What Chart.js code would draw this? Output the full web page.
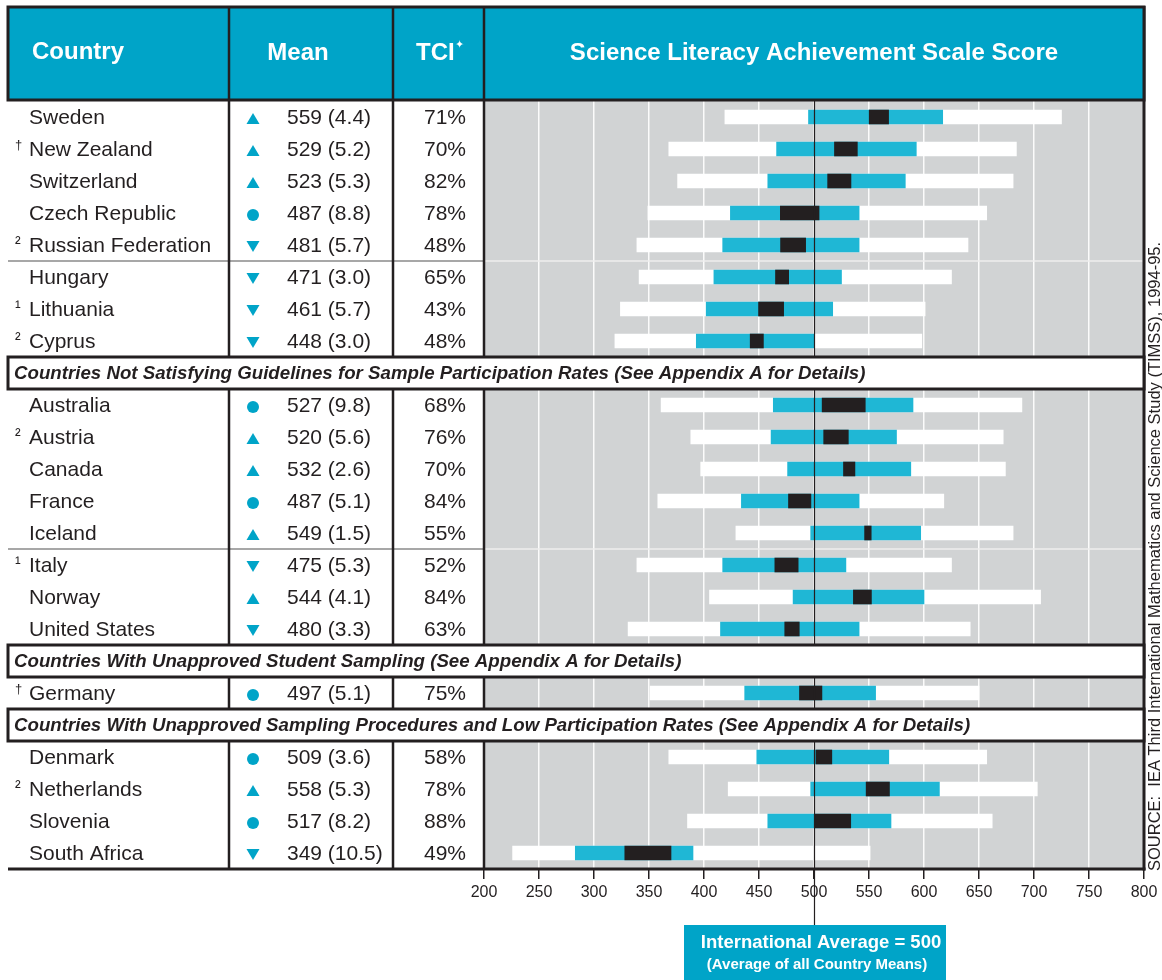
<!DOCTYPE html>
<html>
<head>
<meta charset="utf-8">
<script src="https://cdn.jsdelivr.net/npm/chart.js@4.4.1/dist/chart.umd.min.js"></script>
<style>
  html, body { margin: 0; padding: 0; background: #fff; }
  #wrap { width: 1162px; height: 980px; }
</style>
</head>
<body>
<div id="wrap"><canvas id="scoreChart" width="1162" height="980"></canvas></div>
<script>
// one entry per table row; null marks a section heading row
const countries = ['Sweden', 'New Zealand', 'Switzerland', 'Czech Republic', 'Russian Federation',
  'Hungary', 'Lithuania', 'Cyprus', null,
  'Australia', 'Austria', 'Canada', 'France', 'Iceland', 'Italy', 'Norway', 'United States', null,
  'Germany', null,
  'Denmark', 'Netherlands', 'Slovenia', 'South Africa'];
const notes = ['', '†', '', '', '²', '', '¹', '²', null,
  '', '²', '', '', '', '¹', '', '', null, '†', null, '', '²', '', ''];
const meanScores = [559, 529, 523, 487, 481, 471, 461, 448, null,
  527, 520, 532, 487, 549, 475, 544, 480, null, 497, null, 509, 558, 517, 349];
const meanSE = [4.4, 5.2, 5.3, 8.8, 5.7, 3.0, 5.7, 3.0, null,
  9.8, 5.6, 2.6, 5.1, 1.5, 5.3, 4.1, 3.3, null, 5.1, null, 3.6, 5.3, 8.2, 10.5];
// up = significantly higher than intl average, down = lower, same = no difference
const compare = ['up', 'up', 'up', 'same', 'down', 'down', 'down', 'down', null,
  'same', 'up', 'up', 'same', 'up', 'down', 'up', 'down', null, 'same', null, 'same', 'up', 'same', 'down'];
const tci = [71, 70, 82, 78, 48, 65, 43, 48, null,
  68, 76, 70, 84, 55, 52, 84, 63, null, 75, null, 58, 78, 88, 49];

// percentiles
const p5 = [419, 368, 376, 349, 339, 341, 324, 319, null,
  361, 388, 397, 358, 429, 339, 405, 331, null, 351, null, 368, 422, 385, 226];
const p25 = [495, 466, 458, 424, 417, 409, 402, 393, null,
  463, 461, 476, 434, 497, 417, 481, 415, null, 437, null, 448, 497, 458, 283];
const p75 = [617, 593, 583, 541, 541, 525, 517, 500, null,
  590, 575, 588, 541, 597, 529, 600, 541, null, 556, null, 568, 614, 570, 390];
const p95 = [725, 684, 681, 657, 640, 625, 601, 598, null,
  689, 672, 674, 618, 681, 625, 706, 642, null, 650, null, 657, 703, 662, 551];

const sectionRows = [8, 17, 19];
const sectionTitles = [
  'Countries Not Satisfying Guidelines for Sample Participation Rates (See Appendix A for Details)',
  'Countries With Unapproved Student Sampling (See Appendix A for Details)',
  'Countries With Unapproved Sampling Procedures and Low Participation Rates (See Appendix A for Details)'
];
const dividerRows = [5, 14];
const scoreTicks = [200, 250, 300, 350, 400, 450, 500, 550, 600, 650, 700, 750, 800];
const intlAverage = 500;

const FONT = '"Liberation Sans", Arial, sans-serif';
const INK = '#231F20';
const CYAN = '#00A4C8';

const rowLabels = countries.map((c, i) => c !== null ? c : sectionTitles[sectionRows.indexOf(i)]);
const ciBand = meanScores.map((m, i) => m === null ? null : [m - 2 * meanSE[i], m + 2 * meanSE[i]]);
const midBand = p25.map((v, i) => v === null ? null : [v, p75[i]]);
const wideBand = p5.map((v, i) => v === null ? null : [v, p95[i]]);

function hline(ctx, x1, x2, y) {
  ctx.beginPath(); ctx.moveTo(x1, y); ctx.lineTo(x2, y); ctx.stroke();
}
function vline(ctx, x, y1, y2) {
  ctx.beginPath(); ctx.moveTo(x, y1); ctx.lineTo(x, y2); ctx.stroke();
}

function drawSymbol(ctx, kind, x, y) {
  ctx.fillStyle = CYAN;
  ctx.beginPath();
  if (kind === 'up') {
    ctx.moveTo(x, y - 5); ctx.lineTo(x + 6.5, y + 6); ctx.lineTo(x - 6.5, y + 6);
  } else if (kind === 'down') {
    ctx.moveTo(x - 6.5, y - 5); ctx.lineTo(x + 6.5, y - 5); ctx.lineTo(x, y + 6);
  } else {
    ctx.arc(x, y + 1, 6, 0, Math.PI * 2);
  }
  ctx.closePath();
  ctx.fill();
}

const tablePlugin = {
  id: 'timssTable',
  beforeDraw(chart) {
    const { ctx, chartArea: a } = chart;
    ctx.save();
    ctx.fillStyle = '#fff';
    ctx.fillRect(0, 0, chart.width, chart.height);
    ctx.fillStyle = '#D1D3D4';
    ctx.fillRect(a.left, a.top, a.right - a.left, a.bottom - a.top);
    ctx.restore();
  },
  beforeDatasetsDraw(chart) {
    const { ctx, chartArea: a, scales: { y } } = chart;
    const pitch = y.getPixelForValue(1) - y.getPixelForValue(0);
    ctx.save();
    ctx.lineWidth = 1.5;
    dividerRows.forEach(r => {
      const yy = y.getPixelForValue(r) - pitch / 2;
      ctx.strokeStyle = '#8a8a8a';
      hline(ctx, 8, a.left, yy);
      ctx.strokeStyle = '#EEEEEE';
      hline(ctx, a.left, a.right, yy);
    });
    ctx.restore();
  },
  afterDatasetsDraw(chart) {
    const { ctx, chartArea: a, scales: { x } } = chart;
    const xx = Math.round(x.getPixelForValue(intlAverage)) + 0.5;
    ctx.save();
    ctx.strokeStyle = INK;
    ctx.lineWidth = 1.2;
    vline(ctx, xx, a.top, 925);
    ctx.restore();
  },
  afterDraw(chart) {
    const { ctx, chartArea: a, scales: { x, y } } = chart;
    const pitch = y.getPixelForValue(1) - y.getPixelForValue(0);
    const L = 8, colA = 229, colB = 393;
    ctx.save();

    // column rules and frame of the body
    ctx.strokeStyle = INK;
    ctx.lineWidth = 2.5;
    vline(ctx, colA, a.top, a.bottom);
    vline(ctx, colB, a.top, a.bottom);
    vline(ctx, a.left, a.top, a.bottom);
    ctx.lineWidth = 3;
    vline(ctx, a.right, 6, a.bottom + 1.5);
    hline(ctx, L, a.right + 1.5, a.bottom);

    // section heading rows
    sectionRows.forEach((r, k) => {
      const t = y.getPixelForValue(r) - pitch / 2;
      ctx.fillStyle = '#fff';
      ctx.fillRect(L, t, a.right - L, pitch);
      ctx.lineWidth = 3;
      ctx.strokeStyle = INK;
      ctx.strokeRect(L, t, a.right - L, pitch);
      ctx.fillStyle = INK;
      ctx.font = 'italic bold 18.7px ' + FONT;
      ctx.textAlign = 'left';
      ctx.textBaseline = 'middle';
      ctx.fillText(sectionTitles[k], 14, t + pitch / 2 + 1);
    });

    // header band
    ctx.fillStyle = CYAN;
    ctx.fillRect(L, 7, a.right - L, 93);
    ctx.strokeStyle = INK;
    ctx.lineWidth = 3;
    ctx.strokeRect(L, 7, a.right - L, 93);
    ctx.lineWidth = 2.5;
    [colA, colB, a.left].forEach(cx => vline(ctx, cx, 7, 100));
    ctx.fillStyle = '#fff';
    ctx.font = 'bold 24px ' + FONT;
    ctx.textBaseline = 'middle';
    ctx.textAlign = 'left';
    ctx.fillText('Country', 32, 52);
    ctx.textAlign = 'center';
    ctx.fillText('Mean', 298, 53);
    ctx.textAlign = 'left';
    ctx.fillText('TCI', 416, 53);
    ctx.font = 'bold 11px "DejaVu Sans"';
    ctx.fillText('✦', 455, 45);
    ctx.font = 'bold 24px ' + FONT;
    ctx.textAlign = 'center';
    ctx.fillText('Science Literacy Achievement Scale Score', (a.left + a.right) / 2, 53, 490);

    // table body text
    countries.forEach((name, i) => {
      if (name === null) return;
      const cy = y.getPixelForValue(i);
      ctx.fillStyle = INK;
      ctx.textBaseline = 'middle';
      ctx.textAlign = 'left';
      ctx.font = '21px ' + FONT;
      ctx.fillText(name, 29, cy + 1);
      ctx.fillText(meanScores[i] + ' (' + meanSE[i].toFixed(1) + ')', 287, cy + 1);
      ctx.textAlign = 'right';
      ctx.fillText(tci[i] + '%', 466, cy + 1);
      if (notes[i]) {
        ctx.textAlign = 'left';
        ctx.font = (notes[i] === '†' ? '13px ' : '17px ') + FONT;
        ctx.fillText(notes[i], 15, notes[i] === '†' ? cy - 4 : cy - 1);
      }
      drawSymbol(ctx, compare[i], 253, cy + 1);
    });

    // international average label
    const ax = x.getPixelForValue(intlAverage);
    ctx.fillStyle = CYAN;
    ctx.fillRect(684, 925, 262, 55);
    ctx.fillStyle = '#fff';
    ctx.textAlign = 'center';
    ctx.font = 'bold 18.5px ' + FONT;
    ctx.fillText('International Average = 500', ax + 7, 943, 242);
    ctx.font = 'bold 15px ' + FONT;
    ctx.fillText('(Average of all Country Means)', ax + 3, 965, 222);

    // source note, rotated along the right edge
    ctx.translate(1160, 871);
    ctx.rotate(-Math.PI / 2);
    ctx.fillStyle = INK;
    ctx.textAlign = 'left';
    ctx.textBaseline = 'alphabetic';
    ctx.font = '16.5px ' + FONT;
    ctx.fillText('SOURCE:  IEA Third International Mathematics and Science Study (TIMSS), 1994-95.', 0, 0);
    ctx.restore();
  }
};

new Chart(document.getElementById('scoreChart').getContext('2d'), {
  type: 'bar',
  data: {
    labels: rowLabels,
    datasets: [
      { label: 'Mean ± 2 SE', data: ciBand, backgroundColor: INK },
      { label: '25th to 75th percentile', data: midBand, backgroundColor: '#1FB7D5' },
      { label: '5th to 95th percentile', data: wideBand, backgroundColor: '#FFFFFF' }
    ]
  },
  options: {
    indexAxis: 'y',
    responsive: false,
    animation: false,
    datasets: {
      bar: { grouped: false, barThickness: 14, borderWidth: 0, borderSkipped: false }
    },
    layout: { padding: { left: 484, right: 18, top: 101, bottom: 71 } },
    scales: {
      x: {
        type: 'linear',
        position: 'bottom',
        min: 200,
        max: 800,
        afterBuildTicks: s => { s.ticks = scoreTicks.map(v => ({ value: v })); },
        afterFit: s => { s.height = 40; },
        grid: {
          color: 'rgba(255,255,255,0.9)',
          lineWidth: 1.5,
          tickLength: 10,
          tickColor: INK,
          tickWidth: 1.5
        },
        border: { display: false },
        ticks: { color: INK, font: { family: 'Liberation Sans', size: 16 }, padding: 4, maxRotation: 0 }
      },
      y: { display: false }
    },
    plugins: {
      legend: { display: false },
      tooltip: { enabled: false }
    }
  },
  plugins: [tablePlugin]
});
</script>
</body>
</html>
